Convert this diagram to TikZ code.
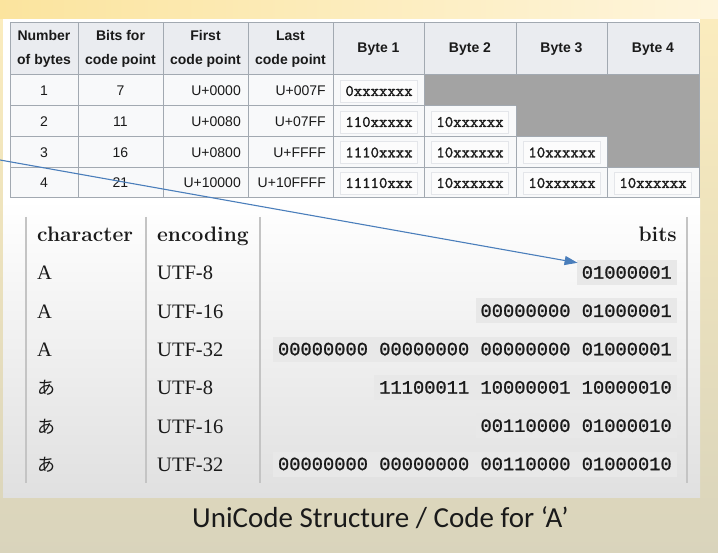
\documentclass[tikz,border=0pt]{standalone}
\usepackage{fontspec}
\usetikzlibrary{arrows.meta,calc}
\newfontfamily\arialf{Liberation Sans}
\newfontfamily\monof{Liberation Mono}[FakeBold=1.2]
\newfontfamily\codef{lmmono10-regular.otf}[FakeBold=1.5]
\newfontfamily\tnrf{Liberation Serif}
\newfontfamily\cjkf{Noto Sans CJK JP}
\newfontfamily\calibf{Carlito}
\definecolor{hdr}{HTML}{EAECF0}
\definecolor{cellbg}{HTML}{F8F9FA}
\definecolor{gridc}{HTML}{A2A9B1}
\definecolor{grayc}{HTML}{A3A3A3}
\definecolor{codebg}{HTML}{FCFCFC}
\definecolor{codebd}{HTML}{E4E6EA}
\definecolor{bitbg}{HTML}{E8E8E8}
\definecolor{vlinec}{HTML}{C4C4C4}
\definecolor{arrowc}{HTML}{4A7EBB}
\definecolor{bgtop}{HTML}{FCEDBE}
\definecolor{bgmid}{HTML}{F7EED2}
\definecolor{bgbot}{HTML}{D9D4BC}
\definecolor{bandl}{HTML}{FBE49E}
\definecolor{bandr}{HTML}{FEF5DC}
\definecolor{panelbot}{HTML}{E0E0E0}
\definecolor{inkc}{HTML}{1A1A1A}
\begin{document}
\begin{tikzpicture}[x=1pt,y=-1pt,
  th/.style={font=\arialf\bfseries\fontsize{14}{24}\selectfont, align=center, inner sep=0pt, text=inkc},
  td/.style={font=\arialf\fontsize{14}{16}\selectfont, inner sep=0pt, text=inkc},
  tdr/.style={td, anchor=east},
  codebox/.style={font=\codef\fontsize{16}{16}\selectfont, fill=codebg, draw=codebd, line width=0.8pt, inner xsep=5pt, inner ysep=0pt, minimum height=22pt, anchor=west, text=inkc},
  shead/.style={font=\bfseries\fontsize{21}{22}\selectfont, inner sep=0pt, text=inkc},
  sbody/.style={font=\tnrf\fontsize{20.5}{22}\selectfont, anchor=base west, inner sep=0pt, text=inkc},
  jbody/.style={font=\cjkf\fontsize{18}{20}\selectfont, anchor=base west, inner sep=0pt, text=inkc},
  bitsbox/.style={font=\monof\fontsize{18.75}{20}\selectfont, fill=bitbg, inner xsep=5pt, inner ysep=0pt, minimum height=25pt, anchor=east, text=inkc},
  gridline/.style={draw=gridc, line width=1pt},
  sepline/.style={draw=vlinec, line width=1.6pt}
]
\useasboundingbox (0,0) rectangle (718,553);
% background
\shade[top color=bgtop, middle color=bgmid, bottom color=bgbot] (0,0) rectangle (718,553);
\shade[left color=bandl, right color=bandr] (0,0) rectangle (718,19);
% white panel
\fill[white] (3,19) rectangle (700,200);
\shade[top color=white, bottom color=panelbot] (3,200) rectangle (700,497);

% ---------- top table ----------
\fill[hdr] (10,23) rectangle (699,75);
\fill[cellbg] (10,75) rectangle (699,198);
\fill[grayc] (424,75) -- (699,75) -- (699,168) -- (607,168) -- (607,137) -- (516,137) -- (516,106) -- (424,106) -- cycle;
% vertical grid lines
\foreach \xx in {10,78,163,248,333,424,699} \draw[gridline] (\xx,23) -- (\xx,198);
\draw[gridline] (516,23) -- (516,75);
\draw[gridline] (516,106) -- (516,198);
\draw[gridline] (607,23) -- (607,75);
\draw[gridline] (607,137) -- (607,198);
% horizontal grid lines
\draw[gridline] (10,23) -- (699,23);
\draw[gridline] (10,75) -- (699,75);
\draw[gridline] (10,106) -- (516,106);
\draw[gridline] (10,137) -- (607,137);
\draw[gridline] (10,168) -- (699,168);
\draw[gridline] (10,198) -- (699,198);

% header texts
\node[th] (h1) at (44,49) {Number\\of bytes};
\node[th] (h2) at (120.5,49) {Bits for\\code point};
\node[th] (h3) at (205.5,49) {First\\code point};
\node[th] (h4) at (290.5,49) {Last\\code point};
\node[th] (h5) at (378.5,49) {Byte 1};
\node[th] (h6) at (470,49) {Byte 2};
\node[th] (h7) at (561.5,49) {Byte 3};
\node[th] (h8) at (653,49) {Byte 4};

% body rows
\node[td] (r1a) at (44,91) {1};
\node[td] (r1b) at (120.5,91) {7};
\node[tdr] (r1c) at (241,91) {U+0000};
\node[tdr] (r1d) at (326,91) {U+007F};
\node[codebox] (r1e) at (340,91) {0xxxxxxx};

\node[td] (r2a) at (44,122) {2};
\node[td] (r2b) at (120.5,122) {11};
\node[tdr] (r2c) at (241,122) {U+0080};
\node[tdr] (r2d) at (326,122) {U+07FF};
\node[codebox] (r2e) at (340,122) {110xxxxx};
\node[codebox] (r2f) at (431,122) {10xxxxxx};

\node[td] (r3a) at (44,152.5) {3};
\node[td] (r3b) at (120.5,152.5) {16};
\node[tdr] (r3c) at (241,152.5) {U+0800};
\node[tdr] (r3d) at (326,152.5) {U+FFFF};
\node[codebox] (r3e) at (340,152.5) {1110xxxx};
\node[codebox] (r3f) at (431,152.5) {10xxxxxx};
\node[codebox] (r3g) at (523,152.5) {10xxxxxx};

\node[td] (r4a) at (44,183) {4};
\node[td] (r4b) at (120.5,183) {21};
\node[tdr] (r4c) at (241,183) {U+10000};
\node[tdr] (r4d) at (326,183) {U+10FFFF};
\node[codebox] (r4e) at (340,183) {11110xxx};
\node[codebox] (r4f) at (431,183) {10xxxxxx};
\node[codebox] (r4g) at (523,183) {10xxxxxx};
\node[codebox] (r4h) at (614,183) {10xxxxxx};

% ---------- lower table ----------
\foreach \xx in {26,146,260,687} \draw[sepline] (\xx,217) -- (\xx,483);

\node[shead, anchor=base west] (hc) at (37,242) {character};
\node[shead, anchor=base west] (he) at (157,242) {encoding};
\node[shead, anchor=base east] (hb) at (677,242) {bits};

\node[sbody] (c1) at (37,280) {A};
\node[sbody] (e1) at (157,280) {UTF-8};
\node[bitsbox] (b1) at (677,272.5) {01000001};

\node[sbody] (c2) at (37,318.3) {A};
\node[sbody] (e2) at (157,318.3) {UTF-16};
\node[bitsbox] (b2) at (677,310.8) {00000000 01000001};

\node[sbody] (c3) at (37,356.6) {A};
\node[sbody] (e3) at (157,356.6) {UTF-32};
\node[bitsbox] (b3) at (677,349.1) {00000000 00000000 00000000 01000001};

\node[jbody] (c4) at (37,394.9) {あ};
\node[sbody] (e4) at (157,394.9) {UTF-8};
\node[bitsbox] (b4) at (677,387.4) {11100011 10000001 10000010};

\node[jbody] (c5) at (37,433.2) {あ};
\node[sbody] (e5) at (157,433.2) {UTF-16};
\node[bitsbox] (b5) at (677,425.7) {00110000 01000010};

\node[jbody] (c6) at (37,471.5) {あ};
\node[sbody] (e6) at (157,471.5) {UTF-32};
\node[bitsbox] (b6) at (677,464) {00000000 00000000 00110000 01000010};

% caption
\node[font=\calibf\fontsize{29}{30}\selectfont, anchor=base west, inner sep=0pt, text=inkc] (cap) at (192,527) {UniCode Structure / Code for ‘A’};

% arrow
\coordinate (arrowstart) at (0,160);
\draw[arrowc, line width=1.1pt, -{Triangle[length=13pt,width=9pt]}] (arrowstart) -- ($(b1.north west)+(1,3)$);
\end{tikzpicture}
\end{document}
